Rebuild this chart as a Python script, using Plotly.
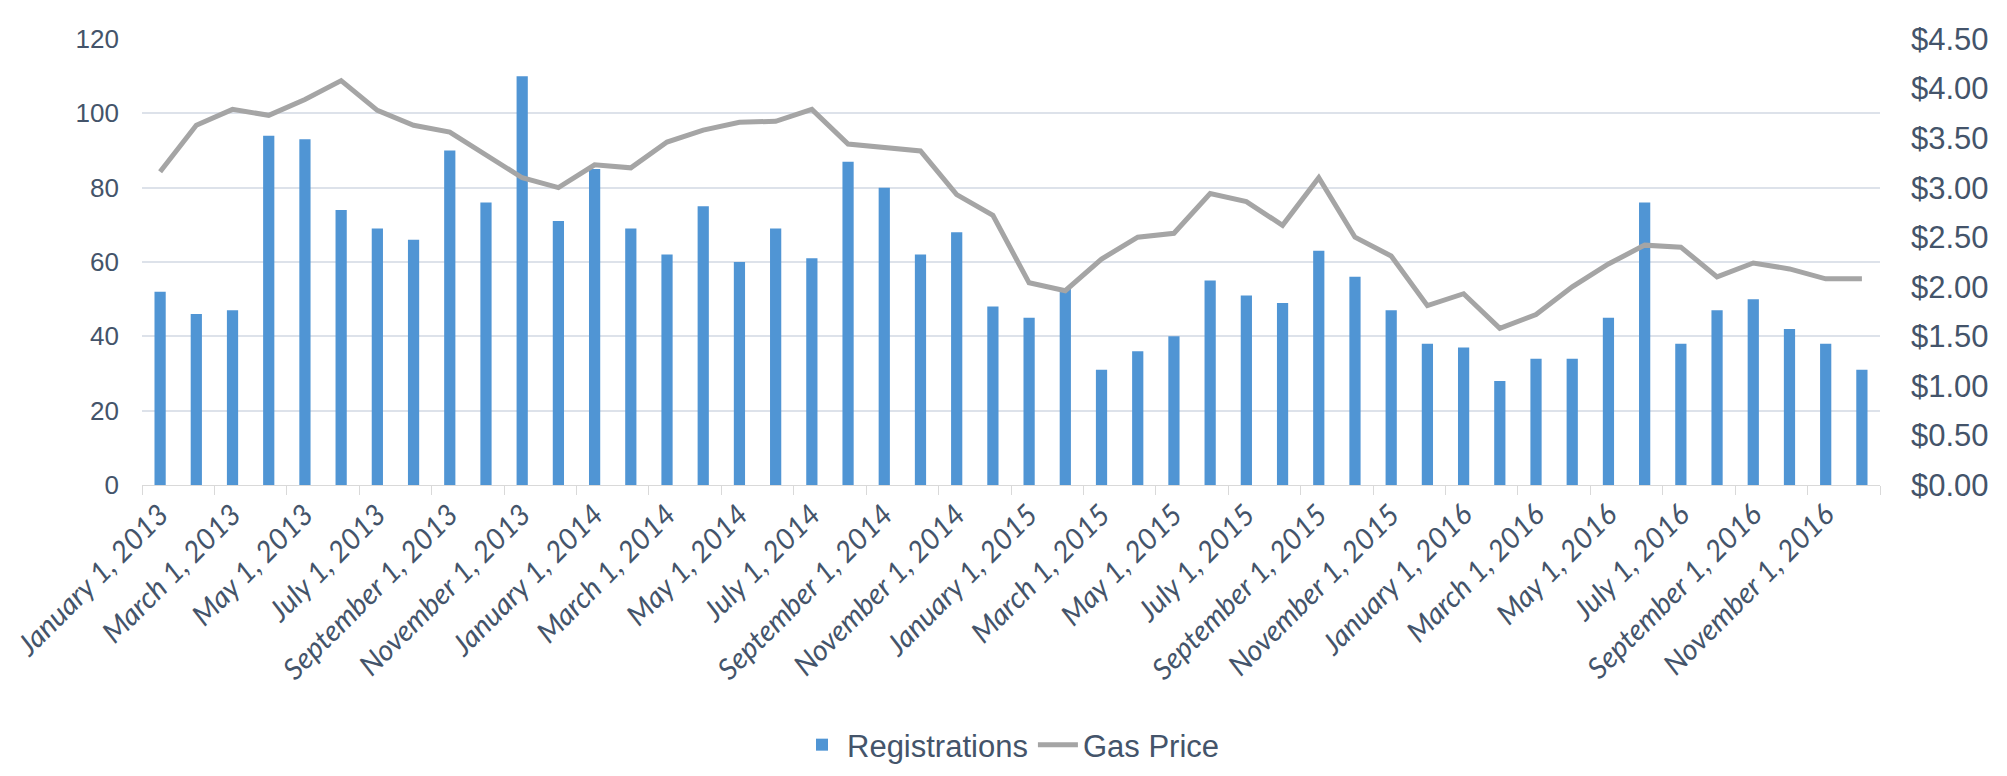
import plotly.graph_objects as go

MONTHS = ["January", "February", "March", "April", "May", "June", "July",
          "August", "September", "October", "November", "December"]
YEARS = [2013, 2014, 2015, 2016]
categories = [f"{m} 1, {y}" for y in YEARS for m in MONTHS]

registrations = [52, 46, 47, 94, 93, 74, 69, 66, 90, 76, 110, 71,
                 85, 69, 62, 75, 60, 69, 61, 87, 80, 62, 68, 48,
                 45, 53, 31, 36, 40, 55, 51, 49, 63, 56, 47, 38,
                 37, 28, 34, 34, 45, 76, 38, 47, 50, 42, 38, 31]

gas_price = [3.16, 3.63, 3.79, 3.73, 3.89, 4.08, 3.78, 3.63, 3.56, 3.33, 3.10, 3.00,
             3.23, 3.20, 3.46, 3.58, 3.66, 3.67, 3.79, 3.44, 3.41, 3.37, 2.93, 2.72,
             2.04, 1.96, 2.28, 2.50, 2.54, 2.94, 2.86, 2.62, 3.10, 2.50, 2.31, 1.81,
             1.93, 1.58, 1.72, 2.00, 2.23, 2.42, 2.40, 2.10, 2.24, 2.18, 2.08, 2.08]

TEXT = "#44546a"
GRID = "#dde2ea"

fig = go.Figure()
fig.add_trace(go.Bar(
    x=categories, y=registrations, name="Registrations",
    marker=dict(color="#5095d4", line=dict(width=0)),
    yaxis="y",
))
fig.add_trace(go.Scatter(
    x=categories, y=gas_price, name="Gas Price", mode="lines",
    line=dict(color="#a5a5a5", width=5),
    yaxis="y2",
))

fig.update_layout(
    width=2007, height=776,
    margin=dict(l=134, r=135, t=31, b=289),
    paper_bgcolor="white", plot_bgcolor="white",
    bargap=0.69,
    showlegend=True,
    legend=dict(orientation="h", x=0.500, y=-0.583, xanchor="center", yanchor="middle",
                font=dict(family="Liberation Sans, Arial, sans-serif", size=31, color=TEXT),
                itemwidth=40, tracegroupgap=0),
    xaxis=dict(
        type="category", tickmode="linear", dtick=2, tick0=0,
        tickson="boundaries", ticks="outside", ticklen=9, tickcolor="#d9d9d9",
        tickangle=-45, showgrid=False, automargin=False,
        showline=True, linecolor="#d9d9d9", linewidth=1,
        tickfont=dict(family="Lato, Open Sans, sans-serif", size=29, color=TEXT, style="italic"),
        range=[-0.5, 47.5],
    ),
    yaxis=dict(
        range=[0, 120], dtick=20, tickmode="linear", automargin=False,
        showgrid=True, gridcolor=GRID, gridwidth=1.5,
        zeroline=False, showline=False, ticks="",
        tickfont=dict(family="Liberation Sans, Arial, sans-serif", size=26, color=TEXT),
        ticklabelstandoff=22,
    ),
    yaxis2=dict(
        range=[0, 4.5], dtick=0.5, tickmode="linear", overlaying="y", side="right",
        showgrid=False, zeroline=False, showline=False, ticks="", automargin=False,
        tickformat="$.2f",
        tickfont=dict(family="Liberation Sans, Arial, sans-serif", size=31, color=TEXT),
        ticklabelstandoff=30,
    ),
)

fig.write_html("out.html")
